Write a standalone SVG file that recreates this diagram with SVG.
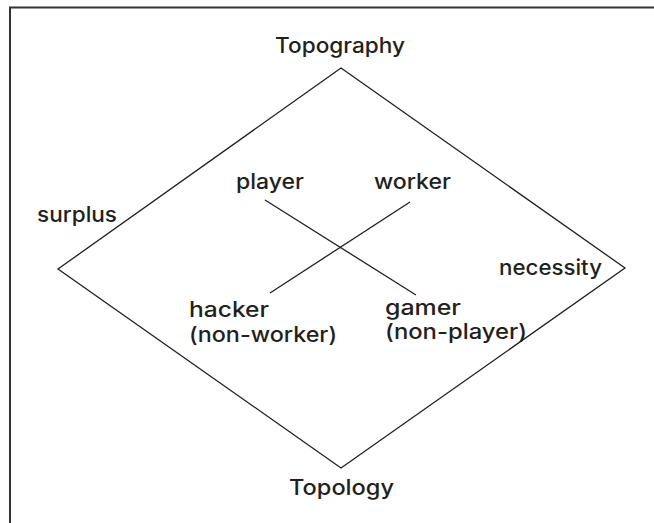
<svg xmlns="http://www.w3.org/2000/svg" width="654" height="523" viewBox="0 0 654 523">
<style>
.t{font-family:Inter,"DejaVu Sans","Liberation Sans",sans-serif;font-size:21px;font-weight:500;fill:#231f20;}
.ln{stroke:#231f20;stroke-width:1.3;fill:none;}
.fr{stroke:#333;stroke-width:2;fill:none;}
</style>
<rect width="654" height="523" fill="#fff"/>
<g id="frame"><path class="fr" d="M10 523 V7.5 H654"/></g>
<g id="connectors">
<polygon class="ln" points="341,68 625,268 341,468 58,269"/>
<line class="ln" x1="265" y1="200" x2="416" y2="295"/>
<line class="ln" x1="410" y1="202" x2="270" y2="293"/>
</g>
<g id="topography"><text class="t" x="275" y="53" textLength="130" lengthAdjust="spacingAndGlyphs">Topography</text></g>
<g id="topology"><text class="t" x="289" y="495" textLength="105" lengthAdjust="spacingAndGlyphs">Topology</text></g>
<g id="surplus"><text class="t" x="37" y="222" textLength="80" lengthAdjust="spacingAndGlyphs">surplus</text></g>
<g id="necessity"><text class="t" x="499" y="275" textLength="103" lengthAdjust="spacingAndGlyphs">necessity</text></g>
<g id="player"><text class="t" x="236" y="189" textLength="68" lengthAdjust="spacingAndGlyphs">player</text></g>
<g id="worker"><text class="t" x="374" y="189" textLength="77" lengthAdjust="spacingAndGlyphs">worker</text></g>
<g id="hacker"><text class="t" x="189" y="317" textLength="80" lengthAdjust="spacingAndGlyphs">hacker</text><text class="t" x="189" y="342" textLength="148" lengthAdjust="spacingAndGlyphs">(non-worker)</text></g>
<g id="gamer"><text class="t" x="385" y="315" textLength="76" lengthAdjust="spacingAndGlyphs">gamer</text><text class="t" x="385" y="339" textLength="142" lengthAdjust="spacingAndGlyphs">(non-player)</text></g>
</svg>
